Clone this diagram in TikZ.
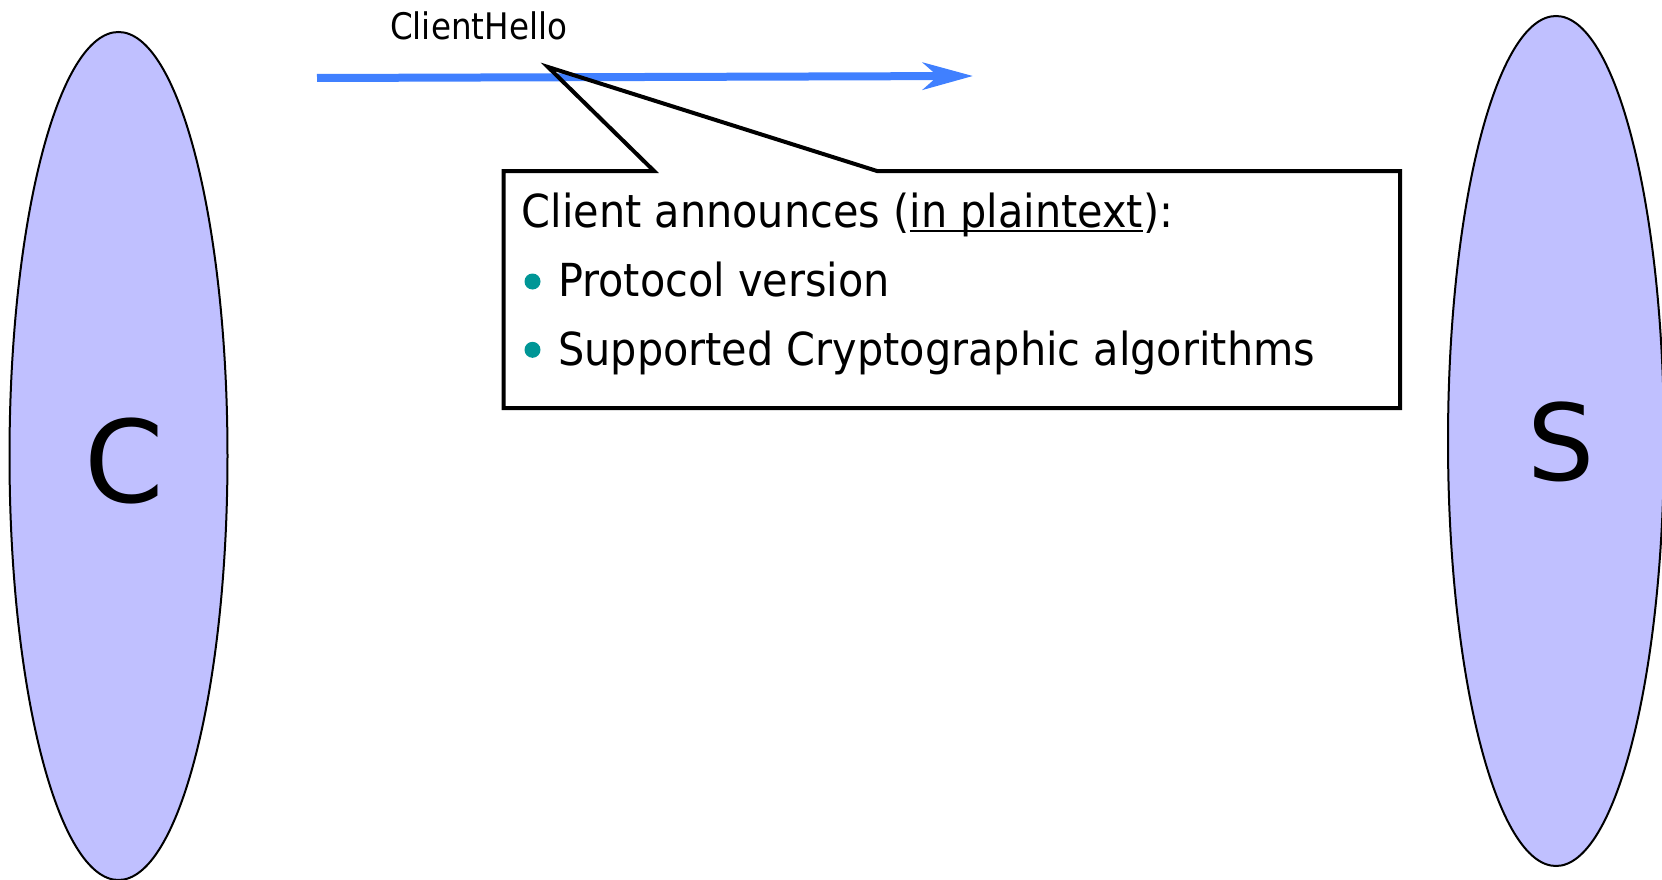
\documentclass[tikz,border=0pt]{standalone}
\usepackage{fontspec}
\usetikzlibrary{arrows.meta,shapes.geometric,calc}
\newfontfamily\bodyfont[FakeStretch=0.91]{DejaVu Sans}
\newfontfamily\hellofont[FakeStretch=0.89]{DejaVu Sans}
\newfontfamily\partyfont{DejaVu Sans}
\definecolor{partyfill}{RGB}{192,192,255}
\definecolor{msgblue}{RGB}{64,128,255}
\definecolor{bullteal}{RGB}{0,150,150}
% underline at a fixed depth below the baseline
\newcommand\plainul[1]{\setbox0\hbox{#1}\rlap{\rule[-4pt]{\wd0}{2.2pt}}\box0}
\begin{document}
\begin{tikzpicture}[x=1pt,y=-1pt,
  party/.style={ellipse, draw=black, line width=2pt, fill=partyfill, inner sep=0pt, outer sep=0pt},
  partylabel/.style={inner sep=0pt, font=\partyfont\fontsize{#1}{#1}\selectfont},
  msg/.style={draw=msgblue, line width=8pt, -{Stealth[length=50pt, width=27pt, inset=15pt]}},
  msglabel/.style={anchor=base west, inner sep=0pt, font=\hellofont\fontsize{36.6}{40}\selectfont},
  callout/.style={draw=black, line width=4pt, line join=miter},
  notetext/.style={anchor=base west, inner sep=0pt, font=\bodyfont\fontsize{45.5}{50}\selectfont},
  bulletdot/.style={circle, fill=bullteal, minimum size=16pt, inner sep=0pt}
]
\useasboundingbox (0,0) rectangle (1662,880);

% client and server
\node[party, minimum width=218pt, minimum height=848pt] (client) at (118.5,456) {};
\node[party, minimum width=216pt, minimum height=850pt] (server) at (1556,441) {};
\node[partylabel=114] (clabel) at (124,461) {C};
\node[partylabel=106] (slabel) at (1561.5,442) {S};

% ClientHello message
\coordinate (msgstart) at (317,78);
\coordinate (msgend) at (973,76);
\draw[msg] (msgstart) -- (msgend);
\node[msglabel] (hello) at (390,39.3) {ClientHello};

% callout box
\node[minimum width=896.5pt, minimum height=237pt, inner sep=0pt, outer sep=0pt] (note) at (951.75,289.5) {};
\coordinate (tip) at (548,67);
\draw[callout] ($(note.north west)+(150.5,0)$) -- (tip) -- ($(note.north west)+(373.5,0)$)
  -- (note.north east) -- (note.south east) -- (note.south west) -- (note.north west) -- cycle;

\node[notetext] (line1) at (521.5,227.7) {Client announces (\plainul{in plaintext}):};
\node[bulletdot] (dot2) at (532.5,281.5) {};
\node[notetext] (line2) at (558,296.7) {Protocol version};
\node[bulletdot] (dot3) at (532.5,349.8) {};
\node[notetext] (line3) at (558,365) {Supported Cryptographic algorithms};
\end{tikzpicture}
\end{document}
